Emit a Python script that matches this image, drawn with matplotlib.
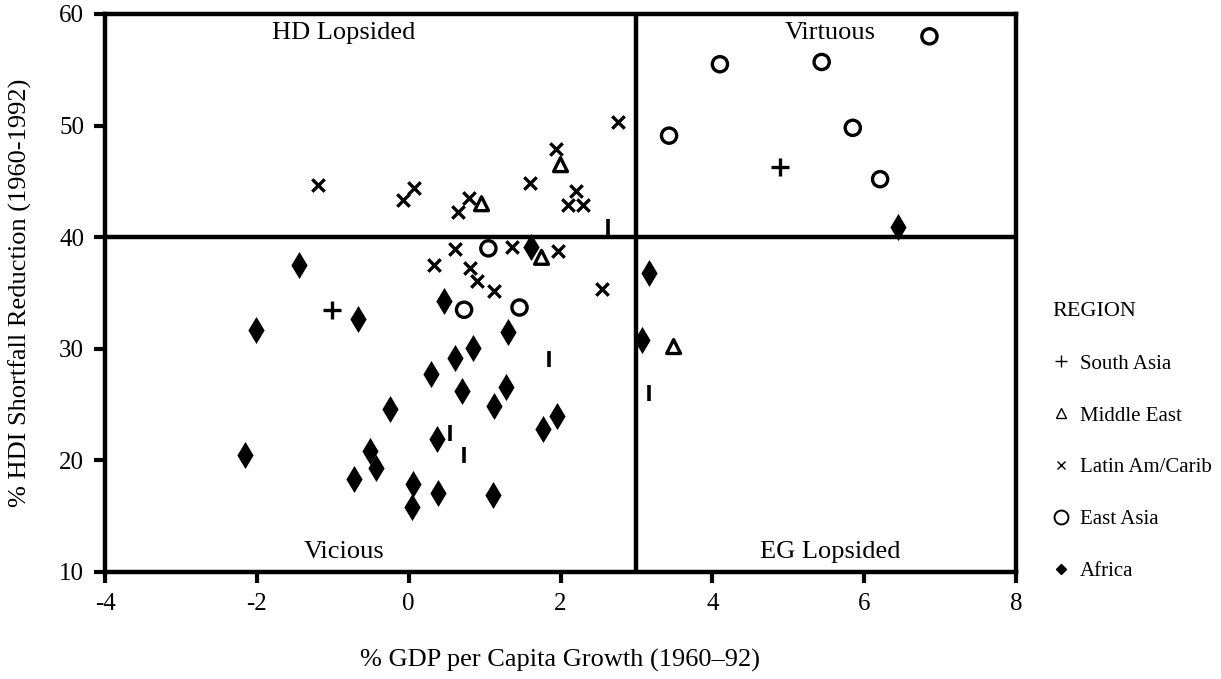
#!/usr/bin/python3
import sys
import matplotlib
matplotlib.use("Agg")
import matplotlib.pyplot as plt
from matplotlib.lines import Line2D

OUT_FILE = "out.png"

# values
south_asia_x = [-1.01, 4.89]
south_asia_y = [33.5, 46.3]

middle_east_x = [2.00, 0.96, 1.75, 3.49]
middle_east_y = [46.5, 43.0, 38.2, 30.2]

latin_x = [-1.19, -0.08, 0.07, 0.65, 0.79, 1.60, 1.94, 2.21, 2.10, 2.30, 2.76,
		   0.61, 1.36, 1.97, 0.33, 0.81, 0.90, 1.13, 2.55]
latin_y = [44.7, 43.3, 44.4, 42.3, 43.5, 44.9, 47.9, 44.1, 42.9, 42.9, 50.3,
		   38.9, 39.1, 38.8, 37.5, 37.2, 36.1, 35.2, 35.4]

east_asia_x = [4.10, 5.44, 6.86, 3.43, 5.85, 6.21, 1.05, 0.73, 1.46]
east_asia_y = [55.5, 55.7, 58.0, 49.1, 49.8, 45.2, 39.0, 33.5, 33.7]

africa_x = [1.61, -1.45, 0.46, -0.67, -2.01, 1.31, 3.17, 3.07, 6.44, 0.85, 0.61,
			0.30, 0.70, 1.28, 1.12, -0.25, 1.95, 1.77, 0.37, -2.16, -0.51, -0.43,
			-0.72, 0.06, 0.39, 1.11, 0.04]
africa_y = [39.1, 37.5, 34.3, 32.7, 31.7, 31.5, 36.8, 30.8, 40.9, 30.1, 29.2,
			27.7, 26.2, 26.6, 24.9, 24.6, 24.0, 22.8, 21.9, 20.5, 20.8, 19.3,
			18.3, 17.9, 17.1, 16.9, 15.8]

# unlabelled bar markers (not in the legend)
other_x = [2.63, 3.17, 1.85, 0.55, 0.73]
other_y = [40.9, 26.0, 29.1, 22.5, 20.5]

x_ticks = [-4, -2, 0, 2, 4, 6, 8]
y_ticks = [10, 20, 30, 40, 50, 60]

quadrants = [("HD Lopsided", -0.85, 58.3), ("Virtuous", 5.55, 58.3),
			 ("Vicious", -0.85, 11.8), ("EG Lopsided", 5.55, 11.8)]

regions = ["South Asia", "Middle East", "Latin Am/Carib", "East Asia", "Africa"]


def plot():
	plt.rcParams["font.family"] = ["Liberation Serif", "DejaVu Serif"]
	plt.rcParams["axes.unicode_minus"] = False

	fig = plt.figure(figsize=(12.21, 6.79), dpi=100)
	ax = fig.add_axes([105 / 1221, 1 - 572 / 679, 911 / 1221, 558 / 679])

	k = "black"
	ax.scatter(south_asia_x, south_asia_y, marker="+", s=160, c=k, linewidths=2.4)
	ax.scatter(middle_east_x, middle_east_y, marker="^", s=100, facecolors="none",
			   edgecolors=k, linewidths=2.4)
	ax.scatter(latin_x, latin_y, marker="x", s=80, c=k, linewidths=2.4)
	ax.scatter(east_asia_x, east_asia_y, marker="o", s=120, facecolors="none",
			   edgecolors=k, linewidths=2.4)
	ax.scatter(africa_x, africa_y, marker="d", s=190, c=k, linewidths=0)
	ax.scatter(other_x, other_y, marker="|", s=120, c=k, linewidths=2.6)

	ax.axvline(3, color=k, lw=3.2)
	ax.axhline(40, color=k, lw=3.2)

	for label, x, y in quadrants:
		ax.text(x, y, label, ha="center", va="center", fontsize=19)

	ax.set_xlim(-4, 8)
	ax.set_ylim(10, 60)
	ax.set_xticks(x_ticks)
	ax.set_yticks(y_ticks)
	ax.tick_params(direction="out", length=8, width=3, labelsize=18, pad=7)
	for s in ax.spines.values():
		s.set_linewidth(3.2)

	ax.set_xlabel("% GDP per Capita Growth (1960\u201392)", fontsize=19)
	ax.xaxis.set_label_coords(0.5, -0.138)
	ax.set_ylabel("% HDI Shortfall Reduction (1960-1992)", fontsize=19)
	ax.yaxis.set_label_coords(-0.08, 0.5)

	# small thin legend symbols like the original key
	handles = [
		Line2D([], [], ls="none", marker="+", ms=8, mew=1, color=k),
		Line2D([], [], ls="none", marker="^", ms=7, mew=1, mfc="none", color=k),
		Line2D([], [], ls="none", marker="x", ms=6, mew=1, color=k),
		Line2D([], [], ls="none", marker="o", ms=10, mew=1.4, mfc="none", color=k),
		Line2D([], [], ls="none", marker="D", ms=5, color=k),
	]
	leg = fig.legend(handles, regions, title="REGION", loc="upper left",
					 bbox_to_anchor=(1034 / 1221, 1 - 283 / 679), frameon=False,
					 fontsize=15, title_fontsize=16, labelspacing=1.55,
					 handlelength=0.8, handletextpad=0.5, alignment="left")
	leg._legend_box.sep = 24

	fig.savefig(OUT_FILE, dpi=100)


def main():
	plot()


if __name__ == '__main__':
	sys.exit(main())
